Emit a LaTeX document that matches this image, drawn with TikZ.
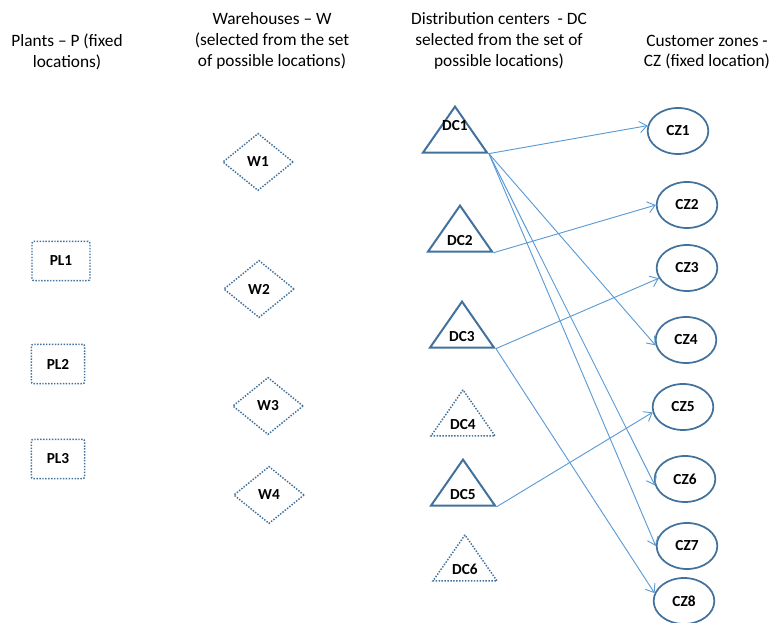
\documentclass[tikz,border=0pt]{standalone}
\usepackage{fontspec}
\setmainfont{Carlito}
\usepackage{xcolor}
\usetikzlibrary{arrows.meta,shapes.geometric}
\definecolor{shapeblue}{HTML}{41719C}
\definecolor{linkblue}{HTML}{5B9BD5}

\begin{document}
\begin{tikzpicture}[
  x=0.75pt,y=-0.75pt,
  heading/.style={align=center,font=\fontsize{13}{15.5}\selectfont},
  tag/.style={font=\fontsize{11.5}{13}\selectfont\bfseries,inner sep=0pt},
  dots/.style={draw=shapeblue,line width=1.1pt,dash pattern=on 1.1pt off 1.1pt},
  plant/.style={tag,dots,rectangle,rounded corners=1.5pt,minimum width=40pt,minimum height=29.5pt},
  warehouse/.style={tag,dots,diamond,minimum width=53pt,minimum height=43pt},
  dc/.style={tag,isosceles triangle,isosceles triangle stretches,shape border rotate=90,minimum width=48pt,minimum height=34.5pt,draw=shapeblue,line width=1.5pt},
  dcopen/.style={dc,dots},
  zone/.style={tag,ellipse,draw=shapeblue,line width=1.3pt,minimum width=45.5pt,minimum height=34.5pt},
  link/.style={draw=linkblue,line width=0.7pt,-{Straight Barb[length=5.5pt,width=8.5pt]}}
]
\useasboundingbox (0,0) rectangle (776,623);
% column headings
\node[heading] (hplant) at (67,52) {Plants – P (fixed\\locations)};
\node[heading] (hware) at (272,41) {Warehouses – W\\(selected from the set\\of possible locations)};
\node[heading] (hdc) at (499,41) {Distribution centers\ \ - DC\\selected from the set of\\possible locations)};
\node[heading] (hzone) at (707,52) {Customer zones -\\CZ (fixed location)};
% plants
\node[plant,minimum width=43.5pt] (PL1) at (61,261) {PL1};
\node[plant] (PL2) at (58,364) {PL2};
\node[plant] (PL3) at (58,459) {PL3};
% warehouses
\node[warehouse] (W1) at (258,162) {W1};
\node[warehouse] (W2) at (259,289) {W2};
\node[warehouse] (W3) at (268,406) {W3};
\node[warehouse] (W4) at (269,495) {W4};
% distribution centers
\node[dc,anchor=apex] (DC1) at (455,104) {\smash{\raisebox{9pt}{DC1}}};
\node[dc,anchor=apex] (DC2) at (460,203) {DC2};
\node[dc,anchor=apex] (DC3) at (462,299) {DC3};
\node[dcopen,anchor=apex] (DC4) at (463,388) {DC4};
\node[dc,anchor=apex] (DC5) at (463,457) {DC5};
\node[dcopen,anchor=apex] (DC6) at (465,533) {DC6};
% customer zones
\node[zone] (CZ1) at (678,131) {CZ1};
\node[zone] (CZ2) at (687,205) {CZ2};
\node[zone] (CZ3) at (687,268) {CZ3};
\node[zone] (CZ4) at (686,340) {CZ4};
\node[zone] (CZ5) at (683,407) {CZ5};
\node[zone] (CZ6) at (685,479) {CZ6};
\node[zone] (CZ7) at (687,546) {CZ7};
\node[zone] (CZ8) at (684,601) {CZ8};
% links
\draw[link] (DC1.right corner) -- (CZ1.170);
\draw[link] (DC1.right corner) -- (CZ4.190);
\draw[link] (DC1.right corner) -- (CZ6.192);
\draw[link] (DC1.right corner) -- (CZ7.west);
\draw[link] (DC2.right corner) -- (CZ2.west);
\draw[link] (DC3.right corner) -- (CZ3.200);
\draw[link] (DC3.right corner) -- (CZ8.165);
\draw[link] (DC5.right corner) -- (CZ5.190);
\end{tikzpicture}
\end{document}
